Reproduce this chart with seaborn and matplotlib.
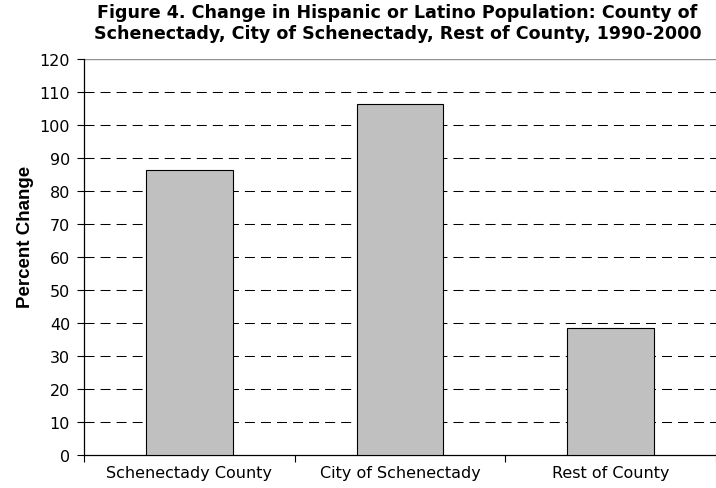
import matplotlib
matplotlib.use("Agg")
import matplotlib.pyplot as plt
import seaborn as sns
import pandas as pd

categories = ["Schenectady County", "City of Schenectady", "Rest of County"]
values = [86.4, 106.4, 38.5]
yticks = list(range(0, 121, 10))

sns.set_style("white")
plt.rcParams['font.family'] = ['DejaVu Sans']
plt.rcParams['text.color'] = 'black'
plt.rcParams['axes.labelcolor'] = 'black'
plt.rcParams['xtick.color'] = 'black'
plt.rcParams['ytick.color'] = 'black'

df = pd.DataFrame({"cat": categories, "val": values})

fig = plt.figure(figsize=(7.16, 4.89), dpi=100)
ax = fig.add_axes([84/716, 1-456/489, (716-84)/716, (456-60)/489])

sns.barplot(data=df, x="cat", y="val", ax=ax, color="#c0c0c0",
            edgecolor="black", linewidth=0.8, width=0.41, saturation=1, zorder=3)

ax.set_ylim(0, 120)
ax.set_xlim(-0.5, 2.5)
ax.set_yticks(yticks)
for t in yticks[1:-1]:
    ax.axhline(t, color="black", lw=0.75, ls=(0, (9.6, 5.8)), zorder=1)
ax.axhline(120, color="#909090", lw=1.0, zorder=1)

ax.set_xticks([-0.5, 0.5, 1.5, 2.5], minor=False)
ax.set_xticklabels([])
ax.set_xticks([0, 1, 2], minor=True)
ax.set_xticklabels(categories, minor=True, fontsize=11.5)
ax.tick_params(axis="x", which="minor", length=0, pad=7)
ax.tick_params(axis="x", which="major", length=5, width=0.8, color="black", direction="out")
ax.tick_params(axis="y", length=5, width=0.8, color="black", direction="out", labelsize=11.5, pad=5)
ax.tick_params(bottom=True, left=True)

for s in ["top", "right"]:
    ax.spines[s].set_visible(False)
for s in ["left", "bottom"]:
    ax.spines[s].set_color("black")
    ax.spines[s].set_linewidth(0.9)

ax.set_xlabel("")
ax.set_ylabel("Percent Change", fontsize=13.5, fontweight="bold",
              family="Liberation Sans", color="black")
ax.yaxis.set_label_coords((34 - 84) / 632, (456 - 237) / 396)

fig.text(0.555, 0.992, "Figure 4. Change in Hispanic or Latino Population: County of\nSchenectady, City of Schenectady, Rest of County, 1990-2000",
         ha="center", va="top", fontsize=12.6, fontweight="bold",
         family="DejaVu Sans", linespacing=1.25, color="black")

fig.savefig("out.png", dpi=100)
